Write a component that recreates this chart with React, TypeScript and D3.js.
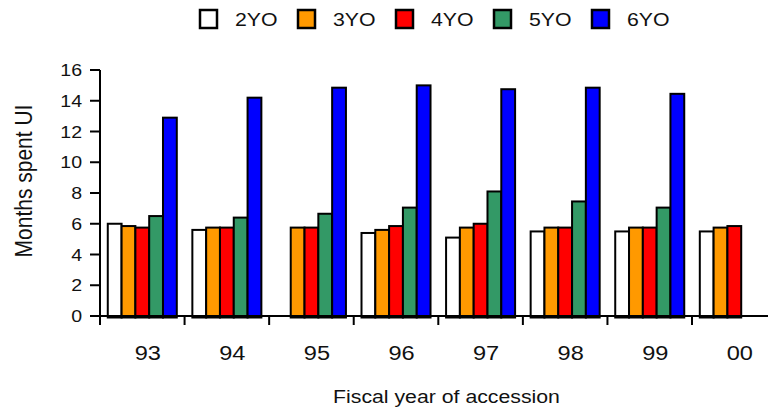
import React, { useRef, useEffect } from "react";
import * as d3 from "d3";

const years = ["93", "94", "95", "96", "97", "98", "99", "00"];
const seriesNames = ["2YO", "3YO", "4YO", "5YO", "6YO"];
const seriesColors = ["#ffffff", "#ff9900", "#ff0000", "#339966", "#0000ff"];

// months spent on UI, one array per age group (null = no bar)
const yo2 = [6.0, 5.6, null, 5.4, 5.1, 5.5, 5.5, 5.5];
const yo3 = [5.85, 5.75, 5.75, 5.6, 5.75, 5.75, 5.75, 5.75];
const yo4 = [5.75, 5.75, 5.75, 5.85, 6.0, 5.75, 5.75, 5.85];
const yo5 = [6.5, 6.4, 6.65, 7.05, 8.1, 7.45, 7.05, null];
const yo6 = [12.9, 14.2, 14.85, 15.0, 14.75, 14.85, 14.45, null];

const yTicks = [0, 2, 4, 6, 8, 10, 12, 14, 16];

const W = 768;
const H = 413;
const STRETCH = 1.15; // the original picture is a bit wider than tall

const App = () => {
    const svgRef = useRef<SVGSVGElement>(null);

    useEffect(() => {
        if (!svgRef.current) return;
        const svg = d3.select(svgRef.current);
        svg.selectAll("*").remove();

        const font = "'Liberation Sans', Arial, sans-serif";
        const allSeries = [yo2, yo3, yo4, yo5, yo6];

        const left = 100;
        const right = 776.6;
        const top = 70;
        const bottom = 316;

        const xBand = d3.scaleBand().domain(years).range([left, right]);
        const step = xBand.bandwidth();
        const groupPad = 0.092;
        const groupWidth = step * (1 - 2 * groupPad);
        const xInner = d3.scaleBand().domain(seriesNames).range([0, groupWidth]);

        const y = d3.scaleLinear().domain([0, 16]).range([bottom, top]);

        // bars
        seriesNames.forEach((name, si) => {
            const vals = allSeries[si];
            svg
                .append("g")
                .selectAll("rect")
                .data(years.map((yr, i) => ({ yr, v: vals[i] })).filter((d) => d.v !== null))
                .enter()
                .append("rect")
                .attr("x", (d) => (xBand(d.yr) as number) + step * groupPad + (xInner(name) as number))
                .attr("y", (d) => y(d.v as number))
                .attr("width", xInner.bandwidth())
                .attr("height", (d) => y(0) - y(d.v as number) + 1.5)
                .attr("fill", seriesColors[si])
                .attr("stroke", "#000")
                .attr("stroke-width", 2);
        });

        // y axis
        svg.append("line")
            .attr("x1", left).attr("x2", left)
            .attr("y1", y(16)).attr("y2", y(0))
            .attr("stroke", "#000").attr("stroke-width", 2);

        yTicks.forEach((t) => {
            svg.append("line")
                .attr("x1", left - 10).attr("x2", left)
                .attr("y1", y(t)).attr("y2", y(t))
                .attr("stroke", "#000").attr("stroke-width", 2);
            svg.append("text")
                .attr("transform", `translate(${left - 18},${y(t) + 6}) scale(${STRETCH},1)`)
                .attr("text-anchor", "end")
                .style("font-family", font)
                .style("font-size", "17px")
                .style("fill", "#111")
                .text(t);
        });

        // x axis
        svg.append("line")
            .attr("x1", left).attr("x2", right)
            .attr("y1", y(0)).attr("y2", y(0))
            .attr("stroke", "#000").attr("stroke-width", 2);

        years.forEach((yr) => {
            const x0 = xBand(yr) as number;
            svg.append("line")
                .attr("x1", x0).attr("x2", x0)
                .attr("y1", y(0)).attr("y2", y(0) + 9)
                .attr("stroke", "#000").attr("stroke-width", 2);
            svg.append("text")
                .attr("transform", `translate(${x0 + step / 2 + 5.5},360) scale(${STRETCH},1)`)
                .attr("text-anchor", "middle")
                .style("font-family", font)
                .style("font-size", "20.5px")
                .style("fill", "#111")
                .text(yr);
        });

        // axis titles
        svg.append("text")
            .attr("transform", `translate(446.5,403) scale(${STRETCH},1)`)
            .attr("text-anchor", "middle")
            .style("font-family", font)
            .style("font-size", "18.5px")
            .style("fill", "#111")
            .text("Fiscal year of accession");

        svg.append("text")
            .attr("transform", `translate(31.5,181) scale(${STRETCH},1) rotate(-90)`)
            .attr("text-anchor", "middle")
            .style("font-family", font)
            .style("font-size", "21px")
            .style("fill", "#111")
            .text("Months spent UI");

        // legend
        seriesNames.forEach((name, i) => {
            const lx = 200 + i * 98;
            svg.append("rect")
                .attr("x", lx).attr("y", 10)
                .attr("width", 17).attr("height", 18)
                .attr("fill", seriesColors[i])
                .attr("stroke", "#000").attr("stroke-width", 2.5);
            svg.append("text")
                .attr("transform", `translate(${lx + 35},26) scale(${STRETCH},1)`)
                .style("font-family", font)
                .style("font-size", "18.5px")
                .style("fill", "#111")
                .text(name);
        });
    }, []);

    return (
        <svg
            ref={svgRef}
            width={W}
            height={H}
            style={{ position: "absolute", left: 0, top: 0, background: "#fff" }}
        />
    );
};

export default App;
